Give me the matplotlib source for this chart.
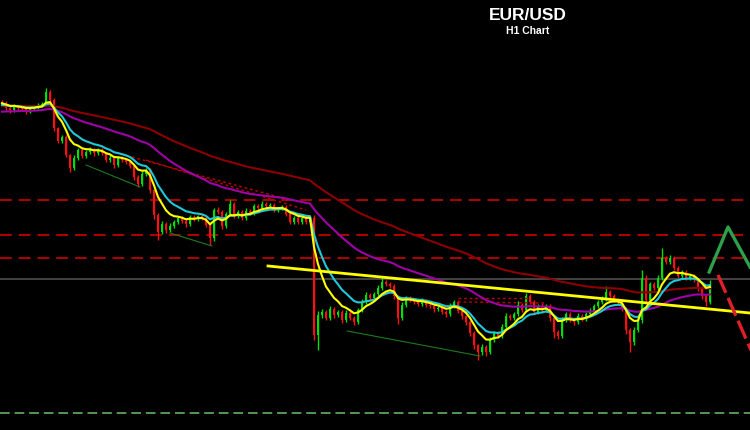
import numpy as np
import matplotlib
matplotlib.use("Agg")
from matplotlib import pyplot as plt

plt.rcParams['lines.scale_dashes'] = False

# closes in chart units (screen-like, axis is inverted), one bar per hour
first_open = 102
closes = [104, 108, 110, 106, 108, 109, 111, 108, 107, 105, 104,
          92, 100, 128, 141, 137, 155, 168, 158, 150, 156,
          152, 150, 153, 150, 153, 160, 158, 165, 158, 160,
          162, 166, 177, 184, 174, 170, 190, 215, 232, 224,
          230, 226, 222, 218, 221, 224, 217, 219, 216, 218,
          225, 238, 210, 212, 226, 214, 204, 216, 212, 218,
          211, 213, 206, 208, 204, 206, 205, 210, 208, 207,
          214, 222, 218, 222, 218, 222, 218, 335, 315, 312,
          318, 309, 315, 312, 320, 313, 318, 322, 310, 302,
          295, 298, 294, 288, 282, 284, 286, 296, 318, 305,
          298, 300, 302, 304, 301, 305, 306, 309, 308, 312,
          314, 306, 302, 311, 316, 322, 333, 345, 352, 347,
          352, 340, 333, 336, 327, 316, 318, 314, 305, 310,
          296, 302, 312, 306, 310, 306, 318, 332, 336, 320,
          314, 320, 322, 316, 319, 314, 311, 306, 302, 299,
          292, 296, 300, 302, 308, 330, 342, 330, 320, 278,
          300, 284, 288, 278, 258, 262, 258, 268, 276, 272,
          278, 276, 280, 288, 296, 302, 284]
upper_wick = [2, 3, 2, 2, 1, 2, 2, 3, 2, 2, 2,
              4, 2, 2, 1, 2, 2, 1, 3, 2, 2,
              2, 3, 2, 2, 2, 1, 3, 2, 2, 2,
              2, 1, 2, 2, 3, 2, 2, 1, 2, 3,
              2, 3, 2, 2, 2, 3, 2, 2, 1, 2,
              2, 1, 2, 3, 2, 2, 4, 2, 2, 2,
              3, 2, 2, 2, 3, 2, 2, 2, 1, 2,
              2, 1, 2, 2, 2, 2, 2, 3, 4, 3,
              2, 3, 2, 2, 2, 3, 2, 2, 2, 3,
              3, 2, 2, 3, 4, 2, 2, 2, 1, 3,
              2, 2, 2, 2, 3, 2, 2, 2, 2, 2,
              2, 3, 2, 2, 2, 1, 2, 2, 1, 3,
              2, 3, 2, 2, 3, 3, 2, 2, 4, 2,
              3, 2, 2, 2, 3, 2, 2, 1, 2, 3,
              2, 2, 2, 3, 2, 2, 3, 2, 2, 3,
              6, 2, 2, 2, 2, 1, 2, 3, 3, 8,
              3, 2, 2, 3, 10, 2, 3, 2, 2, 2,
              2, 2, 2, 1, 2, 2, 4]
lower_wick = [2, 2, 3, 2, 2, 2, 3, 2, 2, 2, 2,
              2, 2, 3, 2, 2, 2, 4, 2, 2, 2,
              2, 2, 3, 2, 2, 2, 2, 3, 2, 2,
              2, 2, 3, 3, 2, 2, 3, 4, 8, 2,
              3, 2, 2, 2, 2, 3, 2, 2, 2, 2,
              2, 7, 3, 2, 3, 2, 2, 2, 2, 2,
              2, 2, 2, 2, 2, 2, 2, 2, 2, 2,
              2, 2, 2, 2, 2, 2, 2, 5, 15, 3,
              2, 2, 3, 2, 3, 2, 2, 3, 2, 2,
              2, 2, 2, 2, 2, 2, 2, 3, 6, 2,
              2, 2, 2, 2, 2, 2, 2, 3, 2, 2,
              3, 2, 2, 2, 3, 3, 3, 4, 8, 3,
              4, 2, 2, 2, 2, 2, 2, 2, 2, 2,
              2, 2, 2, 2, 2, 2, 3, 6, 3, 2,
              2, 2, 3, 2, 2, 2, 2, 2, 2, 2,
              2, 2, 2, 2, 3, 4, 10, 3, 2, 3,
              3, 2, 2, 2, 2, 2, 2, 2, 2, 2,
              2, 2, 2, 3, 3, 4, 2]

# moving averages: (period, starting value read at left edge, colour)
ma_specs = [(90, 106, '#8c0000'), (45, 112, '#a000a8'), (12, 105, '#20c8d8'), (7, 103, '#ffff00')]

# levels and drawn objects (bar index, level)
levels_red = [200, 235, 258]
level_grey = 279
level_bottom = 413
trend_yellow = [(66.5, 266), (187, 313)]
green_lines = [[(21, 165), (34.5, 187)], [(42, 233), (52.5, 246)], [(86.3, 331), (119.5, 356)]]
red_dotted = [[(32.5, 157), (72, 200)], [(36, 160), (76, 210)],
              [(114, 298), (132, 298)], [(114, 302), (136, 303)]]
zigzag_green = [(176.8, 272), (181.5, 227), (187, 267)]
arrow_red = [(179, 275), (188, 357)]


def ema(vals, period, start):
    a = 2.0 / (period + 1)
    out = []
    e = start
    for v in vals:
        e = e + a * (v - e)
        out.append(e)
    return out


closes = np.array(closes, dtype=float)
opens = np.concatenate([[first_open], closes[:-1]])
highs = np.minimum(opens, closes) - np.array(upper_wick)
lows = np.maximum(opens, closes) + np.array(lower_wick)
idx = np.arange(len(closes))

fig = plt.figure(figsize=(7.5, 4.3), dpi=100, facecolor='black')
ax = fig.add_axes([0, 0, 1, 1])
ax.set_facecolor('black')
ax.set_xlim(-0.5, 187)
ax.set_ylim(430, 0)
ax.axis('off')

# horizontal levels
for y in levels_red:
    ax.axhline(y, color='#c00000', lw=1.3, dashes=(8.5, 5), zorder=1)
ax.axhline(level_grey, color='#4a4a4a', lw=1.3, zorder=1)
ax.axhline(level_bottom, color='#5aa55a', lw=1.3, dashes=(7, 3.5), zorder=1)

# candles
up = closes < opens
cols = np.where(up, '#00e000', '#ff1010')
ax.vlines(idx, highs, lows, colors=cols, lw=1.0, zorder=2)
body = np.where(np.abs(closes - opens) < 1, 1, closes - opens)
ax.bar(idx, body, bottom=opens, width=0.62, color=cols, zorder=2)

for ln in green_lines:
    xs, ys = zip(*ln)
    ax.plot(xs, ys, color='#1e7a1e', lw=0.8, zorder=3)
for ln in red_dotted:
    xs, ys = zip(*ln)
    ax.plot(xs, ys, color='#c00000', lw=1.0, dashes=(2, 2), zorder=3)

for period, start, c in ma_specs:
    ax.plot(idx, ema(closes, period, start), color=c, lw=1.5, zorder=4)

xs, ys = zip(*trend_yellow)
ax.plot(xs, ys, color='#ffff00', lw=2.0, zorder=5)

xs, ys = zip(*zigzag_green)
ax.plot(xs, ys, color='#2ea04a', lw=2.4, zorder=5)
xs, ys = zip(*arrow_red)
ax.plot(xs, ys, color='#e02028', lw=2.4, dashes=(14, 4), zorder=5)

ax.text(131.5, 15, 'EUR/USD', color='white', fontsize=12.5, fontweight='bold',
        family='Liberation Sans', ha='center', va='center')
ax.text(131.5, 31, 'H1 Chart', color='white', fontsize=7.5, fontweight='bold',
        family='Liberation Sans', ha='center', va='center')

fig.savefig('out.png', dpi=100, facecolor='black')
